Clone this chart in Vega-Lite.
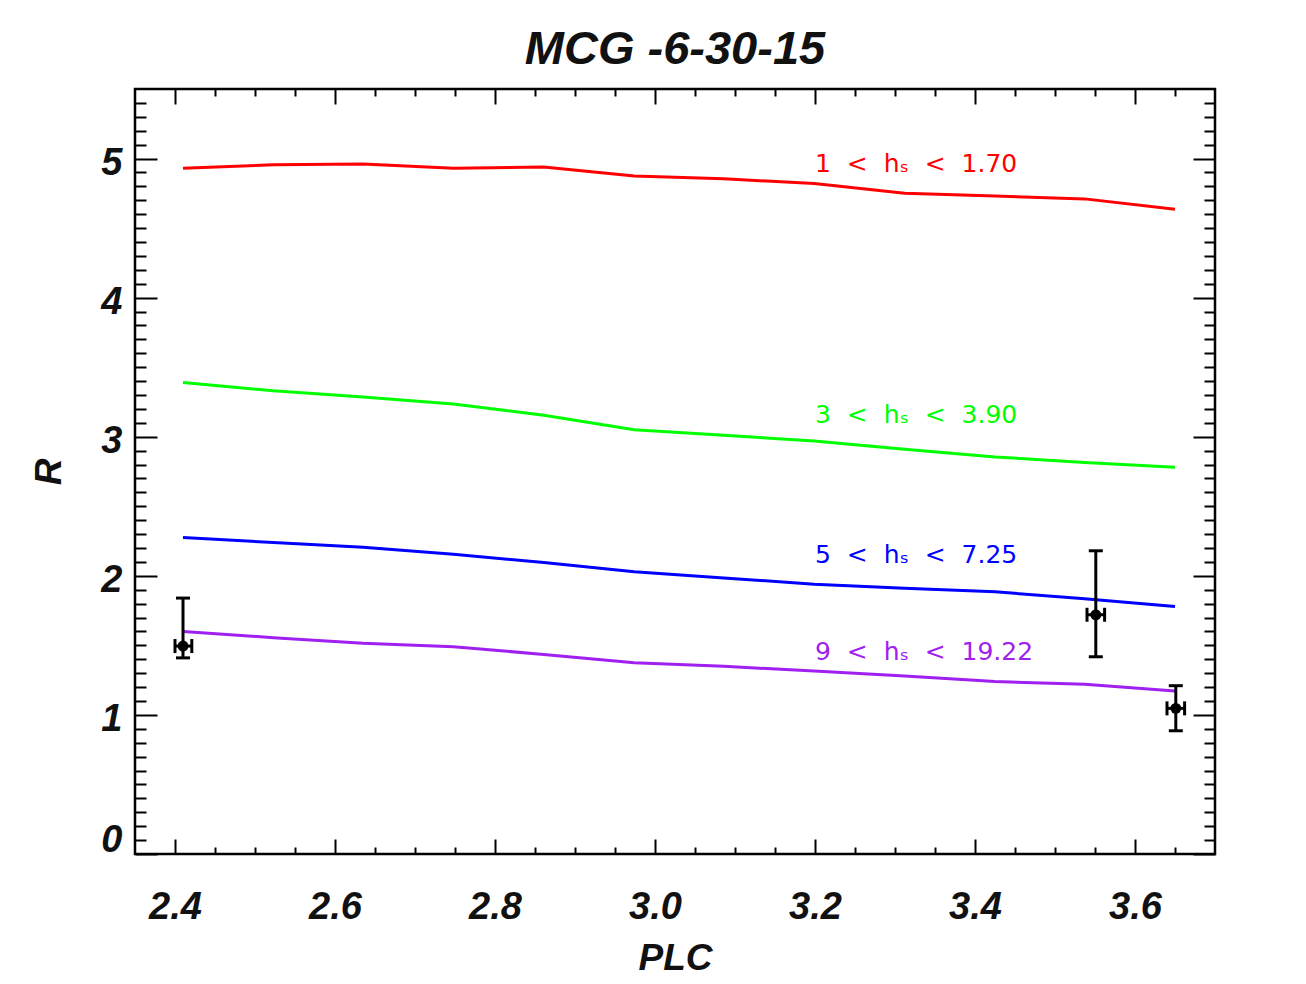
{
  "$schema": "https://vega.github.io/schema/vega-lite/v6.json",
  "autosize": "none",
  "padding": {"left": 135, "top": 89, "right": 91, "bottom": 130},
  "width": 1080,
  "height": 765,
  "background": "white",
  "config": {
    "view": {"stroke": "black", "strokeWidth": 2.5, "fill": "white"},
    "axis": {"grid": false, "domain": false, "tickColor": "black", "tickWidth": 2}
  },
  "title": {
    "text": "MCG -6-30-15",
    "font": "Liberation Sans",
    "fontSize": 47,
    "fontWeight": "bold",
    "fontStyle": "italic",
    "color": "#111111",
    "offset": 14,
    "anchor": "middle"
  },
  "datasets": {
    "curves": [
      {"plc": 2.410, "R": 4.93, "series": "s1"},
      {"plc": 2.523, "R": 4.955, "series": "s1"},
      {"plc": 2.635, "R": 4.96, "series": "s1"},
      {"plc": 2.748, "R": 4.93, "series": "s1"},
      {"plc": 2.861, "R": 4.94, "series": "s1"},
      {"plc": 2.974, "R": 4.875, "series": "s1"},
      {"plc": 3.086, "R": 4.855, "series": "s1"},
      {"plc": 3.199, "R": 4.82, "series": "s1"},
      {"plc": 3.312, "R": 4.75, "series": "s1"},
      {"plc": 3.425, "R": 4.73, "series": "s1"},
      {"plc": 3.537, "R": 4.71, "series": "s1"},
      {"plc": 3.650, "R": 4.635, "series": "s1"},
      {"plc": 2.410, "R": 3.39, "series": "s2"},
      {"plc": 2.523, "R": 3.33, "series": "s2"},
      {"plc": 2.635, "R": 3.285, "series": "s2"},
      {"plc": 2.748, "R": 3.235, "series": "s2"},
      {"plc": 2.861, "R": 3.155, "series": "s2"},
      {"plc": 2.974, "R": 3.05, "series": "s2"},
      {"plc": 3.086, "R": 3.01, "series": "s2"},
      {"plc": 3.199, "R": 2.97, "series": "s2"},
      {"plc": 3.312, "R": 2.91, "series": "s2"},
      {"plc": 3.425, "R": 2.855, "series": "s2"},
      {"plc": 3.537, "R": 2.815, "series": "s2"},
      {"plc": 3.650, "R": 2.78, "series": "s2"},
      {"plc": 2.410, "R": 2.275, "series": "s3"},
      {"plc": 2.523, "R": 2.24, "series": "s3"},
      {"plc": 2.635, "R": 2.205, "series": "s3"},
      {"plc": 2.748, "R": 2.155, "series": "s3"},
      {"plc": 2.861, "R": 2.095, "series": "s3"},
      {"plc": 2.974, "R": 2.03, "series": "s3"},
      {"plc": 3.086, "R": 1.985, "series": "s3"},
      {"plc": 3.199, "R": 1.94, "series": "s3"},
      {"plc": 3.312, "R": 1.91, "series": "s3"},
      {"plc": 3.425, "R": 1.885, "series": "s3"},
      {"plc": 3.537, "R": 1.835, "series": "s3"},
      {"plc": 3.650, "R": 1.78, "series": "s3"},
      {"plc": 2.410, "R": 1.60, "series": "s4"},
      {"plc": 2.523, "R": 1.555, "series": "s4"},
      {"plc": 2.635, "R": 1.515, "series": "s4"},
      {"plc": 2.748, "R": 1.49, "series": "s4"},
      {"plc": 2.861, "R": 1.435, "series": "s4"},
      {"plc": 2.974, "R": 1.375, "series": "s4"},
      {"plc": 3.086, "R": 1.35, "series": "s4"},
      {"plc": 3.199, "R": 1.315, "series": "s4"},
      {"plc": 3.312, "R": 1.28, "series": "s4"},
      {"plc": 3.425, "R": 1.24, "series": "s4"},
      {"plc": 3.537, "R": 1.22, "series": "s4"},
      {"plc": 3.650, "R": 1.172, "series": "s4"}
    ],
    "labels": [
      {"plc": 3.2, "R": 4.9, "series": "s1", "label": "1\u00a0\u00a0<\u00a0\u00a0hₛ\u00a0\u00a0<\u00a0\u00a01.70"},
      {"plc": 3.2, "R": 3.1, "series": "s2", "label": "3\u00a0\u00a0<\u00a0\u00a0hₛ\u00a0\u00a0<\u00a0\u00a03.90"},
      {"plc": 3.2, "R": 2.094, "series": "s3", "label": "5\u00a0\u00a0<\u00a0\u00a0hₛ\u00a0\u00a0<\u00a0\u00a07.25"},
      {"plc": 3.2, "R": 1.395, "series": "s4", "label": "9\u00a0\u00a0<\u00a0\u00a0hₛ\u00a0\u00a0<\u00a0\u00a019.22"}
    ],
    "obs": [
      {"plc": 2.410, "R": 1.495, "R_lo": 1.41, "R_hi": 1.84, "plc_lo": 2.400, "plc_hi": 2.421},
      {"plc": 3.551, "R": 1.72, "R_lo": 1.418, "R_hi": 2.18, "plc_lo": 3.540, "plc_hi": 3.562},
      {"plc": 3.651, "R": 1.047, "R_lo": 0.886, "R_hi": 1.21, "plc_lo": 3.640, "plc_hi": 3.662}
    ]
  },
  "resolve": {"axis": {"x": "independent", "y": "independent"}},
  "layer": [
    {
      "data": {"name": "curves"},
      "mark": {"type": "line", "strokeWidth": 3, "clip": true},
      "encoding": {
        "x": {
          "field": "plc", "type": "quantitative",
          "scale": {"domain": [2.35, 3.7], "nice": false, "zero": false},
          "axis": {
            "orient": "bottom",
            "values": [2.4, 2.6, 2.8, 3.0, 3.2, 3.4, 3.6],
            "format": ".1f",
            "tickSize": -15,
            "labelPadding": 49,
            "labelFont": "Liberation Sans", "labelFontSize": 38, "labelFontWeight": "bold", "labelFontStyle": "italic", "labelColor": "#111111",
            "title": "PLC",
            "titleFont": "Liberation Sans", "titleFontSize": 37, "titleFontWeight": "bold", "titleFontStyle": "italic", "titleColor": "#111111",
            "titlePadding": 14
          }
        },
        "y": {
          "field": "R", "type": "quantitative",
          "scale": {"domain": [0, 5.5], "nice": false, "zero": false},
          "axis": {
            "orient": "left",
            "values": [0, 1, 2, 3, 4, 5],
            "tickSize": -22,
            "labelPadding": 35,
            "labelFlush": true,
            "labelOffset": 5,
            "labelFont": "Liberation Sans", "labelFontSize": 38, "labelFontWeight": "bold", "labelFontStyle": "italic", "labelColor": "#111111",
            "title": "R",
            "titleFont": "Liberation Sans", "titleFontSize": 37, "titleFontWeight": "bold", "titleFontStyle": "italic", "titleColor": "#111111",
            "titlePadding": 32
          }
        },
        "color": {
          "field": "series", "type": "nominal",
          "scale": {"domain": ["s1", "s2", "s3", "s4"], "range": ["#ff0000", "#00ff00", "#0000ff", "#a020f0"]},
          "legend": null
        }
      }
    },
    {
      "data": {"name": "labels"},
      "mark": {"type": "text", "align": "left", "baseline": "alphabetic", "font": "DejaVu Sans", "fontWeight": "normal", "fontSize": 25},
      "encoding": {
        "x": {
          "field": "plc", "type": "quantitative",
          "scale": {"domain": [2.35, 3.7], "nice": false, "zero": false},
          "axis": {
            "orient": "bottom",
            "values": [2.45, 2.5, 2.55, 2.65, 2.7, 2.75, 2.85, 2.9, 2.95, 3.05, 3.1, 3.15, 3.25, 3.3, 3.35, 3.45, 3.5, 3.55, 3.65],
            "tickSize": -7, "labels": false, "title": null
          }
        },
        "y": {
          "field": "R", "type": "quantitative",
          "scale": {"domain": [0, 5.5], "nice": false, "zero": false},
          "axis": {
            "orient": "left",
            "values": [0.1, 0.2, 0.3, 0.4, 0.5, 0.6, 0.7, 0.8, 0.9, 1.1, 1.2, 1.3, 1.4, 1.5, 1.6, 1.7, 1.8, 1.9, 2.1, 2.2, 2.3, 2.4, 2.5, 2.6, 2.7, 2.8, 2.9, 3.1, 3.2, 3.3, 3.4, 3.5, 3.6, 3.7, 3.8, 3.9, 4.1, 4.2, 4.3, 4.4, 4.5, 4.6, 4.7, 4.8, 4.9, 5.1, 5.2, 5.3, 5.4],
            "tickSize": -11, "labels": false, "title": null
          }
        },
        "text": {"field": "label"},
        "color": {"field": "series", "type": "nominal", "legend": null}
      }
    },
    {
      "data": {"name": "obs"},
      "mark": {"type": "rule", "color": "black", "strokeWidth": 3},
      "encoding": {
        "x": {
          "field": "plc", "type": "quantitative",
          "scale": {"domain": [2.35, 3.7], "nice": false, "zero": false},
          "axis": {
            "orient": "top",
            "values": [2.4, 2.6, 2.8, 3.0, 3.2, 3.4, 3.6],
            "tickSize": -15, "labels": false, "title": null
          }
        },
        "y": {
          "field": "R_lo", "type": "quantitative",
          "scale": {"domain": [0, 5.5], "nice": false, "zero": false},
          "axis": {
            "orient": "right",
            "values": [0, 1, 2, 3, 4, 5],
            "tickSize": -22, "labels": false, "title": null
          }
        },
        "y2": {"field": "R_hi"}
      }
    },
    {
      "data": {"name": "obs"},
      "mark": {"type": "rule", "color": "black", "strokeWidth": 3},
      "encoding": {
        "x": {
          "field": "plc_lo", "type": "quantitative",
          "scale": {"domain": [2.35, 3.7], "nice": false, "zero": false},
          "axis": {
            "orient": "top",
            "values": [2.45, 2.5, 2.55, 2.65, 2.7, 2.75, 2.85, 2.9, 2.95, 3.05, 3.1, 3.15, 3.25, 3.3, 3.35, 3.45, 3.5, 3.55, 3.65],
            "tickSize": -7, "labels": false, "title": null
          }
        },
        "x2": {"field": "plc_hi"},
        "y": {
          "field": "R", "type": "quantitative",
          "scale": {"domain": [0, 5.5], "nice": false, "zero": false},
          "axis": {
            "orient": "right",
            "values": [0.1, 0.2, 0.3, 0.4, 0.5, 0.6, 0.7, 0.8, 0.9, 1.1, 1.2, 1.3, 1.4, 1.5, 1.6, 1.7, 1.8, 1.9, 2.1, 2.2, 2.3, 2.4, 2.5, 2.6, 2.7, 2.8, 2.9, 3.1, 3.2, 3.3, 3.4, 3.5, 3.6, 3.7, 3.8, 3.9, 4.1, 4.2, 4.3, 4.4, 4.5, 4.6, 4.7, 4.8, 4.9, 5.1, 5.2, 5.3, 5.4],
            "tickSize": -11, "labels": false, "title": null
          }
        }
      }
    },
    {
      "data": {"name": "obs"},
      "mark": {"type": "tick", "orient": "horizontal", "color": "black", "size": 14, "thickness": 3, "opacity": 1},
      "encoding": {
        "x": {"field": "plc", "type": "quantitative", "scale": {"domain": [2.35, 3.7], "nice": false, "zero": false}, "axis": null},
        "y": {"field": "R_lo", "type": "quantitative", "scale": {"domain": [0, 5.5], "nice": false, "zero": false}, "axis": null}
      }
    },
    {
      "data": {"name": "obs"},
      "mark": {"type": "tick", "orient": "horizontal", "color": "black", "size": 14, "thickness": 3, "opacity": 1},
      "encoding": {
        "x": {"field": "plc", "type": "quantitative", "scale": {"domain": [2.35, 3.7], "nice": false, "zero": false}, "axis": null},
        "y": {"field": "R_hi", "type": "quantitative", "scale": {"domain": [0, 5.5], "nice": false, "zero": false}, "axis": null}
      }
    },
    {
      "data": {"name": "obs"},
      "mark": {"type": "tick", "orient": "vertical", "color": "black", "size": 14, "thickness": 3, "opacity": 1},
      "encoding": {
        "x": {"field": "plc_lo", "type": "quantitative", "scale": {"domain": [2.35, 3.7], "nice": false, "zero": false}, "axis": null},
        "y": {"field": "R", "type": "quantitative", "scale": {"domain": [0, 5.5], "nice": false, "zero": false}, "axis": null}
      }
    },
    {
      "data": {"name": "obs"},
      "mark": {"type": "tick", "orient": "vertical", "color": "black", "size": 14, "thickness": 3, "opacity": 1},
      "encoding": {
        "x": {"field": "plc_hi", "type": "quantitative", "scale": {"domain": [2.35, 3.7], "nice": false, "zero": false}, "axis": null},
        "y": {"field": "R", "type": "quantitative", "scale": {"domain": [0, 5.5], "nice": false, "zero": false}, "axis": null}
      }
    },
    {
      "data": {"name": "obs"},
      "mark": {"type": "point", "shape": "circle", "filled": true, "color": "black", "size": 120, "opacity": 1},
      "encoding": {
        "x": {"field": "plc", "type": "quantitative", "scale": {"domain": [2.35, 3.7], "nice": false, "zero": false}, "axis": null},
        "y": {"field": "R", "type": "quantitative", "scale": {"domain": [0, 5.5], "nice": false, "zero": false}, "axis": null}
      }
    }
  ]
}
